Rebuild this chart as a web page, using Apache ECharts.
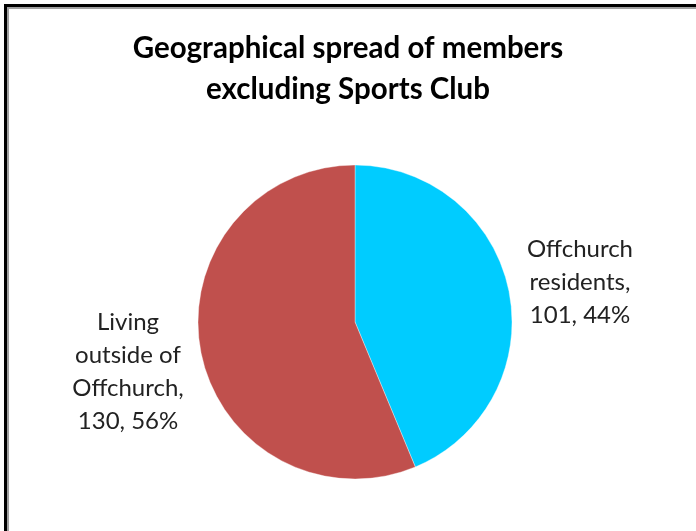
<!DOCTYPE html>
<html>
<head>
<meta charset="utf-8">
<script src="https://cdn.jsdelivr.net/npm/echarts@6/dist/echarts.min.js"></script>
<style>
html,body{margin:0;padding:0;background:#fff;}
#c{width:696px;height:531px;}
</style>
</head>
<body>
<div id="c"></div>
<script>
const titleLines = ['Geographical spread of members', 'excluding Sports Club'];
const categories = ['Offchurch residents', 'Living outside of Offchurch'];
const labelLines = [['Offchurch', 'residents,'], ['Living', 'outside of', 'Offchurch,']];
const values = [101, 130];
const colors = ['#00CCFF', '#C0504D'];

const total = values.reduce((a, b) => a + b, 0);
const chart = echarts.init(document.getElementById('c'), null, {renderer: 'canvas'});
const labelPos = [[580, 282], [128, 372]];

chart.setOption({
  animation: false,
  backgroundColor: '#fff',
  title: {
    text: titleLines.join('\n'),
    left: 'center',
    top: 23,
    textStyle: {fontFamily: 'Lato', fontWeight: 'bold', fontSize: 29.5, color: '#000', lineHeight: 41}
  },
  graphic: [
    {type: 'rect', shape: {x: 5.5, y: 5.5, width: 900, height: 900}, style: {fill: null, stroke: '#000', lineWidth: 3}, silent: true},
    {type: 'rect', shape: {x: 8, y: 8, width: 900, height: 900}, style: {fill: null, stroke: '#a0a0a0', lineWidth: 2}, silent: true}
  ],
  series: [{
    type: 'pie',
    center: [355, 322],
    radius: 157,
    startAngle: 90,
    clockwise: true,
    data: categories.map((n, i) => ({name: n, value: values[i], itemStyle: {color: colors[i]}})),
    itemStyle: {borderColor: 'rgba(255,255,255,0.6)', borderWidth: 0.6},
    label: {
      show: true,
      position: 'outside',
      formatter: p => labelLines[p.dataIndex].join('\n') + '\n' + p.value + ', ' + Math.round(p.value / total * 100) + '%',
      fontFamily: 'Lato',
      fontSize: 24,
      lineHeight: 33,
      color: '#222',
      align: 'center'
    },
    labelLine: {show: false},
    labelLayout: p => ({x: labelPos[p.dataIndex][0], y: labelPos[p.dataIndex][1], align: 'center', verticalAlign: 'middle'}),
    emphasis: {disabled: true}
  }]
});
</script>
</body>
</html>
